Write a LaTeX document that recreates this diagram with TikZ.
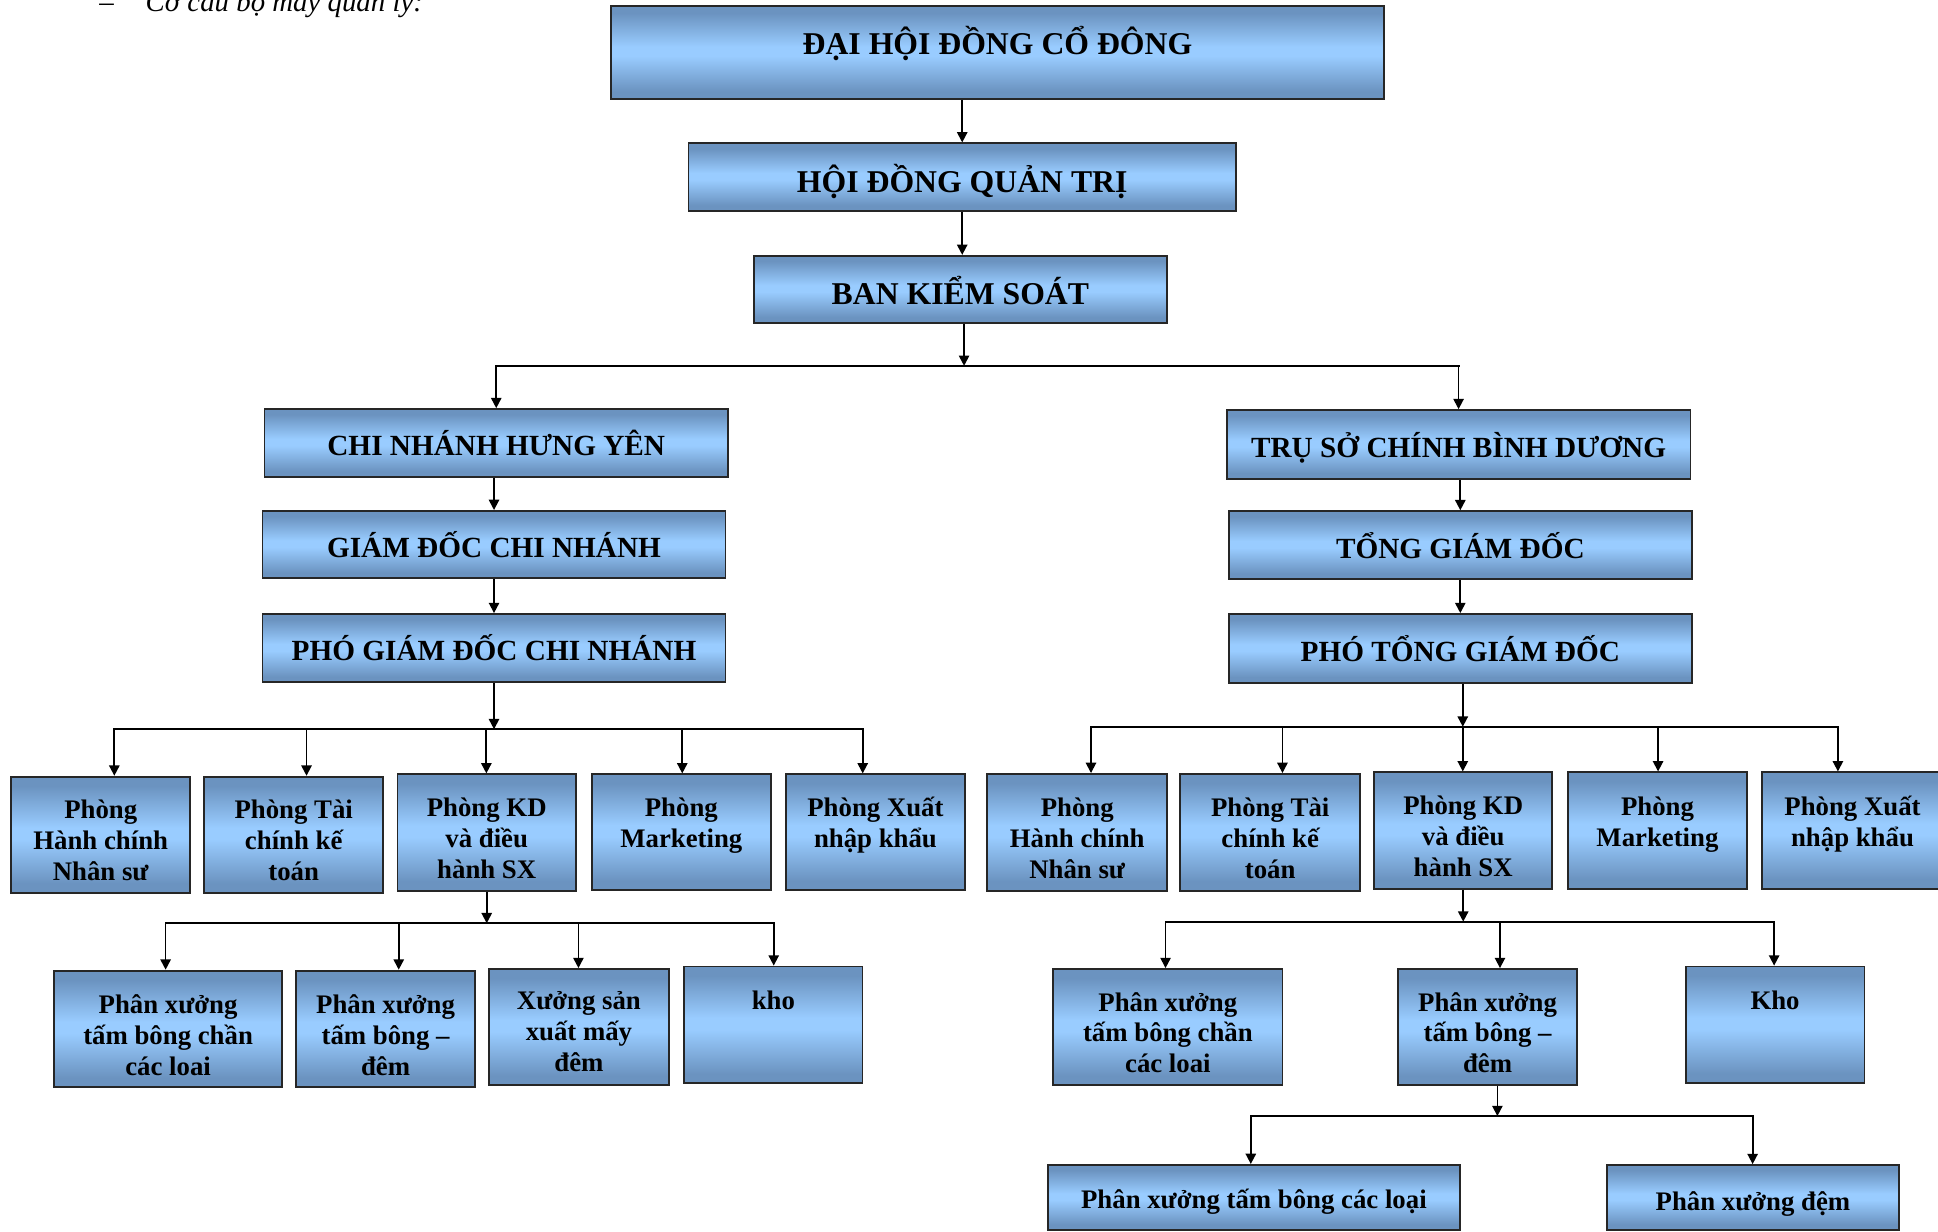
\documentclass[tikz,border=0pt]{standalone}
\usepackage{fontspec}
\setmainfont{Liberation Serif}
\usetikzlibrary{arrows.meta}
\definecolor{bd}{HTML}{6B93C0}
\definecolor{bl}{HTML}{99CCFF}
\definecolor{bline}{HTML}{262626}
\pgfdeclareverticalshading{boxgrad}{100bp}{color(0bp)=(bd); color(25bp)=(bd); color(29bp)=(bd); color(48bp)=(bl); color(53bp)=(bl); color(71bp)=(bd); color(75bp)=(bd); color(100bp)=(bd)}
\newcommand\stk[1]{\vbox{\baselineskip=15pt\lineskiplimit=-\maxdimen\lineskip=0pt\halign{\hfil##\hfil\cr#1\crcr}}}
\newcommand\bx[8][small]{%
  \pgfmathsetmacro\bxw{0.6*(#5-#3)}%
  \pgfmathsetmacro\bxh{0.6*(#6-#4)}%
  \pgfmathsetmacro\bxr{0.6*((#4+#6)/2-#7)}%
  \node[box,#1,minimum width=\bxw pt,minimum height=\bxh pt] (#2) at ({(#3+#5)/2},{(#4+#6)/2})
    {\raisebox{\bxr pt}[0pt][0pt]{\stk{#8}}};}
\tikzset{
  box/.style={draw=bline, line width=0.9pt, shading=boxgrad, inner sep=0pt, text=black},
  big/.style={font=\fontsize{15.4}{18}\selectfont\bfseries},
  mid/.style={font=\fontsize{14.2}{17}\selectfont\bfseries},
  small/.style={font=\fontsize{13}{15}\selectfont\bfseries},
  arr/.style={line width=0.85pt, -{Triangle[length=5pt,width=5pt]}},
  bus/.style={line width=1pt, line cap=rect},
}
\begin{document}
\begin{tikzpicture}[x=0.6pt, y=-0.6pt]
\fill[white] (0,0) rectangle (1568,996);
\useasboundingbox (0,0) rectangle (1568,996);

\node[anchor=base west, inner sep=0pt, font=\fontsize{14}{16}\selectfont\itshape] (cap) at (80,9.5) {–\hspace{15.5pt}Cơ cấu bộ máy quản lý:};

% top
\bx[big]{dh}{494}{4.6}{1120}{80}{44}{ĐẠI HỘI ĐỒNG CỔ ĐÔNG}
\bx[big]{hd}{557}{116}{1000}{170.5}{156}{HỘI ĐỒNG QUẢN TRỊ}
\bx[big]{bk}{610}{207}{944}{261}{246}{BAN KIỂM SOÁT}
% left branch
\bx[mid]{cn}{214}{331}{589}{385.7}{368.7}{CHI NHÁNH HƯNG YÊN}
\bx[mid]{gd}{212.4}{413.4}{587}{467.7}{450.7}{GIÁM ĐỐC CHI NHÁNH}
\bx[mid]{pg}{212.4}{496.8}{587}{552}{534.5}{PHÓ GIÁM ĐỐC CHI NHÁNH}
% right branch
\bx[mid]{ts}{992.5}{331.8}{1367.7}{387.3}{370}{TRỤ SỞ CHÍNH BÌNH DƯƠNG}
\bx[mid]{tg}{994}{413.6}{1369}{468.5}{451.5}{TỔNG GIÁM ĐỐC}
\bx[mid]{pt}{994}{496.8}{1369}{552.3}{535.3}{PHÓ TỔNG GIÁM ĐỐC}

% left departments
\bx{la}{9}{628.4}{154}{722.2}{712}{Phòng\cr Hành chính\cr Nhân sư}
\bx{lb}{165.3}{628.4}{310}{722.2}{712}{Phòng Tài\cr chính kế\cr toán}
\bx{lc}{321.6}{626.5}{466}{720.6}{710.6}{Phòng KD\cr và điều\cr hành SX}
\bx{ld}{479}{626.5}{623.5}{720}{686}{Phòng\cr Marketing}
\bx{le}{635.6}{626.5}{781}{720}{686}{Phòng Xuất\cr nhập khẩu}
% left workshops
\bx{pa}{43.5}{785.3}{228.5}{879.5}{870}{Phân xưởng\cr tấm bông chần\cr các loai}
\bx{pb}{239.6}{785.3}{384.3}{879.5}{870}{Phân xưởng\cr tấm bông –\cr đêm}
\bx{pc}{395.8}{784}{541}{877.8}{867}{Xưởng sản\cr xuất mấy\cr đêm}
\bx{pd}{553.6}{782}{697.8}{876.4}{817}{kho}

% right departments
\bx{ra}{798.8}{626.2}{944.3}{720.6}{710.6}{Phòng\cr Hành chính\cr Nhân sư}
\bx{rb}{955}{626.2}{1100.4}{720.6}{710.6}{Phòng Tài\cr chính kế\cr toán}
\bx{rc}{1111.7}{624.9}{1256}{719}{709.3}{Phòng KD\cr và điều\cr hành SX}
\bx{rd}{1268.4}{624.9}{1413.6}{719}{685}{Phòng\cr Marketing}
\bx{re}{1425.6}{624.9}{1572}{719}{685}{Phòng Xuất\cr nhập khẩu}
% right workshops
\bx{qa}{852.2}{784}{1037.6}{877.8}{868}{Phân xưởng\cr tấm bông chần\cr các loai}
\bx{qb}{1131.4}{784}{1275.7}{877.8}{868}{Phân xưởng\cr tấm bông –\cr đêm}
\bx{qc}{1363.8}{782}{1508.5}{876}{817}{Kho}
\bx{sa}{848}{942.5}{1181}{995}{978}{Phân xưởng tấm bông các loại}
\bx{sb}{1300}{942.6}{1536.6}{995}{979}{Phân xưởng đệm}

% connectors: top
\draw[arr] (hd.north |- dh.south) -- (hd.north);
\draw[arr] (hd.south) -- (hd.south |- bk.north);
\coordinate (b1) at (780,296);
\draw[arr] (b1 |- bk.south) -- (b1);
\draw[bus] (cn.north |- b1) -- (ts.north |- b1);
\draw[arr] (cn.north |- b1) -- (cn.north);
\draw[arr] (ts.north |- b1) -- (ts.north);

% left chain
\draw[arr] (gd.north |- cn.south) -- (gd.north);
\draw[arr] (gd.south) -- (pg.north);
\coordinate (b2) at (pg.south |- 0,590);
\draw[arr] (pg.south) -- (b2);
\coordinate (b2l) at (92.5,590);
\coordinate (b2r) at (698,590);
\draw[bus] (b2l) -- (b2r);
\foreach \x/\n in {92.5/la, 248/lb, 393.5/lc, 552/ld, 698/le}{
  \coordinate (d\n) at (\x,590);
  \draw[arr] (d\n) -- (d\n |- \n.north);
}
\coordinate (b3) at (lc.south |- 0,747);
\draw[arr] (lc.south) -- (b3);
\coordinate (b3l) at (134,747);
\coordinate (b3r) at (626,747);
\draw[bus] (b3l) -- (b3r);
\foreach \x/\n in {134/pa, 322.6/pb, 468/pc, 626/pd}{
  \coordinate (d\n) at (\x,747);
  \draw[arr] (d\n) -- (d\n |- \n.north);
}

% right chain
\draw[arr] (tg.north |- ts.south) -- (tg.north);
\draw[arr] (tg.south) -- (pt.north);
\coordinate (b4) at (1183.5,588);
\draw[arr] (b4 |- pt.south) -- (b4);
\coordinate (b4l) at (882.7,588);
\coordinate (b4r) at (1487,588);
\draw[bus] (b4l) -- (b4r);
\foreach \x/\n in {882.7/ra, 1037.6/rb, 1183.5/rc, 1341.5/rd, 1487/re}{
  \coordinate (d\n) at (\x,588);
  \draw[arr] (d\n) -- (d\n |- \n.north);
}
\coordinate (b5) at (rc.south |- 0,745.7);
\draw[arr] (rc.south) -- (b5);
\coordinate (b5l) at (943,745.7);
\coordinate (b5r) at (1435.4,745.7);
\draw[bus] (b5l) -- (b5r);
\foreach \x/\n in {943/qa, 1213.6/qb, 1435.4/qc}{
  \coordinate (d\n) at (\x,745.7);
  \draw[arr] (d\n) -- (d\n |- \n.north);
}
\coordinate (b6) at (1211.5,903);
\draw[arr] (b6 |- qb.south) -- (b6);
\coordinate (b6l) at (1012,903);
\coordinate (b6r) at (1418,903);
\draw[bus] (b6l) -- (b6r);
\foreach \x/\n in {1012/sa, 1418/sb}{
  \coordinate (d\n) at (\x,903);
  \draw[arr] (d\n) -- (d\n |- \n.north);
}
\end{tikzpicture}
\end{document}
